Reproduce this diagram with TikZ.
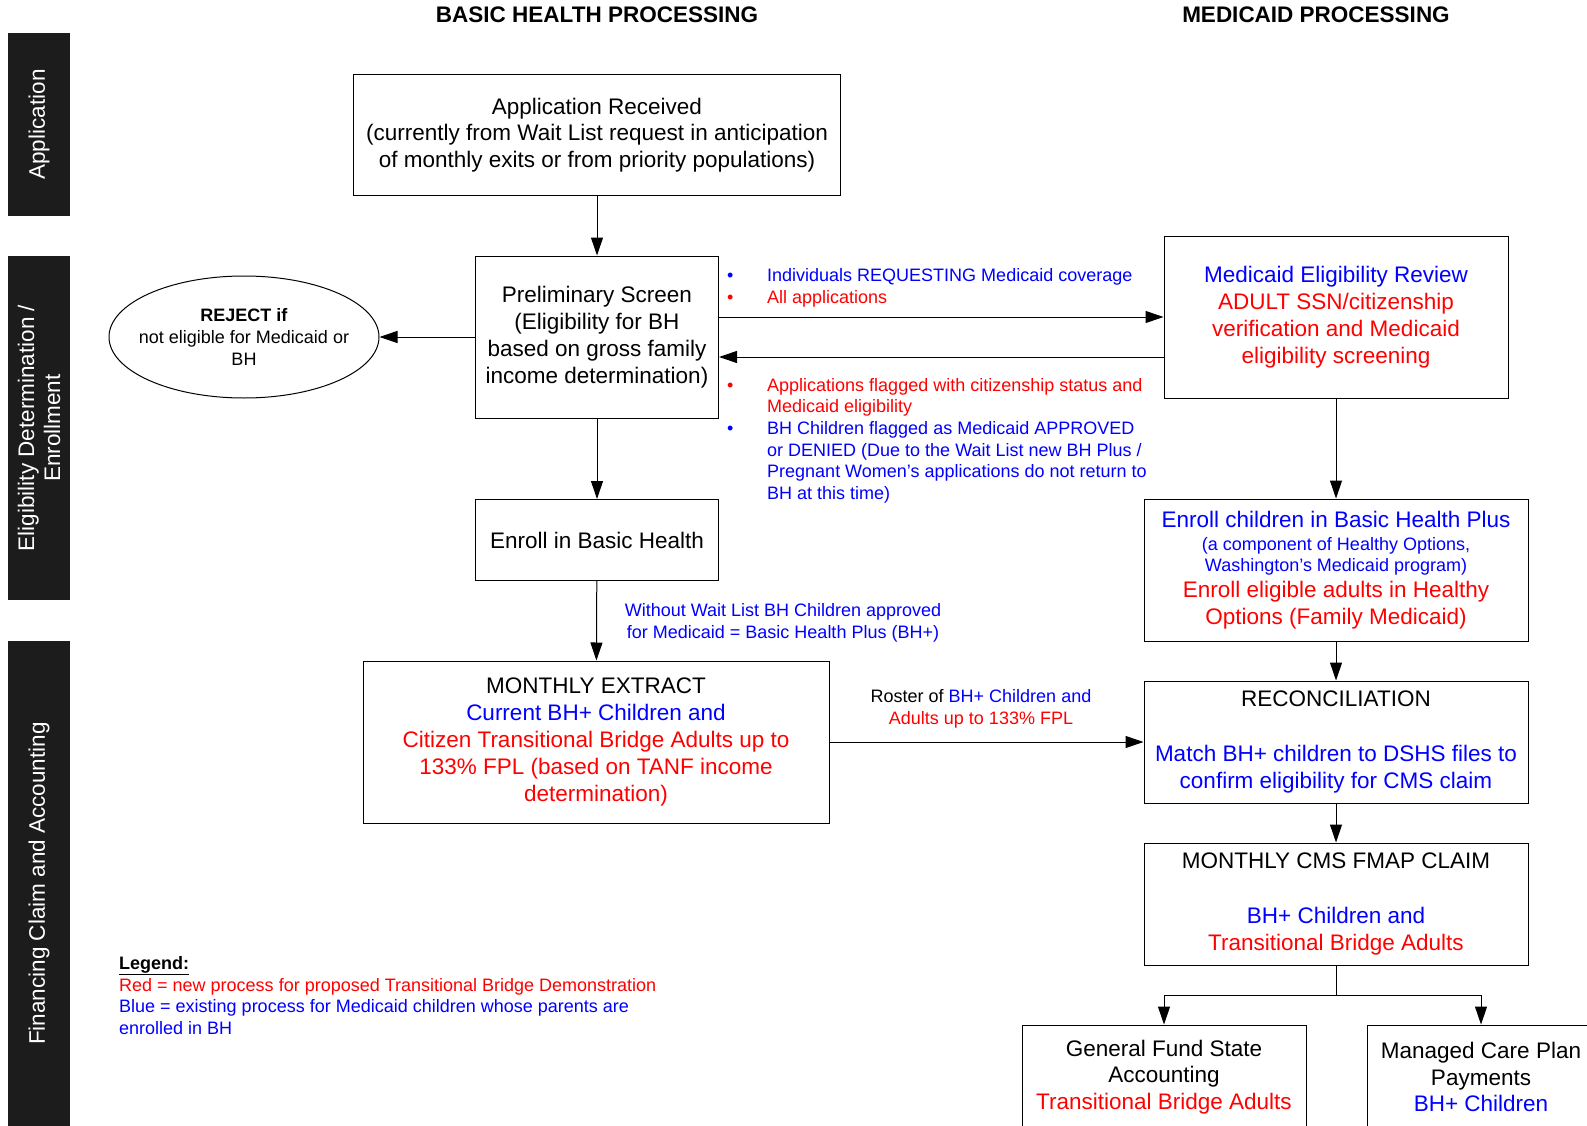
\documentclass[tikz,border=0pt]{standalone}
\usepackage{fontspec}
\setmainfont{Liberation Sans}
\usetikzlibrary{arrows.meta,shapes.geometric}
\newcommand\boxfont{\fontsize{22.5}{26.8}\selectfont}
\newcommand\notefont{\fontsize{18}{21.7}\selectfont}
\newcommand\bartextfont{\fontsize{22.5}{26}\selectfont}

\begin{document}
\begin{tikzpicture}[x=1pt, y=-1pt,
    procbox/.style ={rectangle, draw, line width=1pt, inner sep=0pt, align=center, font=\boxfont},
    rejectnode/.style ={ellipse, draw, line width=1pt, inner xsep=-10pt, inner ysep=0pt, align=center, font=\notefont},
    sidebar/.style ={rectangle, fill=black!89, text=white, rotate=90, inner sep=0pt, align=center, font=\bartextfont},
    colhead/.style ={font=\fontsize{22.5}{26}\selectfont\bfseries},
    note/.style ={font=\notefont, inner sep=0pt},
    flow/.style ={line width=1pt, -{Triangle[length=18pt,width=12pt]}}]
   \useasboundingbox (0,0) rectangle (1587,1126);

   % column headings and swim lanes
   \node[colhead] (bhhead) at (597,15) {BASIC HEALTH PROCESSING};
   \node[colhead] (mdhead) at (1316,15) {MEDICAID PROCESSING};
   \node[sidebar, minimum width=183pt, minimum height=62pt] (laneapp) at (39,124.5) {Application};
   \node[sidebar, minimum width=344pt, minimum height=62pt] (laneelig) at (39,428) {Eligibility Determination /\\Enrollment};
   \node[sidebar, minimum width=485pt, minimum height=62pt] (lanefin) at (39,883.5) {Financing Claim and Accounting};

   % basic health side
   \node[procbox, minimum width=487pt, minimum height=121pt] (apprec) at (597,135)
     {Application Received\\(currently from Wait List request in anticipation\\of monthly exits or from priority populations)};
   \node[procbox, minimum width=243pt, minimum height=162pt] (prelim) at (597,337)
     {Preliminary Screen\\(Eligibility for BH\\based on gross family\\income determination)};
   \node[rejectnode, minimum width=270pt, minimum height=122pt] (reject) at (244,337)
     {\textbf{REJECT if}\\not eligible for Medicaid or\\BH};
   \node[procbox, minimum width=243pt, minimum height=81pt] (enrollbh) at (597,540) {Enroll in Basic Health};
   \node[procbox, minimum width=466pt, minimum height=162pt] (extract) at (596,742)
     {MONTHLY EXTRACT\\\textcolor{blue}{Current BH+ Children and}\\
      \textcolor{red}{Citizen Transitional Bridge Adults up to}\\
      \textcolor{red}{133\% FPL (based on TANF income}\\\textcolor{red}{determination)}};

   % medicaid side
   \node[procbox, minimum width=344pt, minimum height=162pt] (medrev) at (1336,317)
     {\textcolor{blue}{Medicaid Eligibility Review}\\\textcolor{red}{ADULT SSN/citizenship}\\
      \textcolor{red}{verification and Medicaid}\\\textcolor{red}{eligibility screening}};
   \node[procbox, minimum width=384pt, minimum height=142pt] (enrollch) at (1336,570)
     {\textcolor{blue}{Enroll children in Basic Health Plus}\\[-4pt]
      \textcolor{blue}{\notefont(a component of Healthy Options,}\\[-5pt]
      \textcolor{blue}{\notefont Washington's Medicaid program)}\\[-1pt]
      \textcolor{red}{Enroll eligible adults in Healthy}\\\textcolor{red}{Options (Family Medicaid)}};
   \node[procbox, minimum width=384pt, minimum height=122pt] (recon) at (1336,742)
     {RECONCILIATION\\[27.8pt]\textcolor{blue}{Match BH+ children to DSHS files to}\\
      \textcolor{blue}{confirm eligibility for CMS claim}};
   \node[procbox, minimum width=384pt, minimum height=122pt] (cms) at (1336,904)
     {MONTHLY CMS FMAP CLAIM\\[27.8pt]\textcolor{blue}{BH+ Children and}\\
      \textcolor{red}{Transitional Bridge Adults}};
   \node[procbox, minimum width=284pt, minimum height=104pt] (genfund) at (1164,1077)
     {General Fund State\\Accounting\\\textcolor{red}{Transitional Bridge Adults}};
   \node[procbox, minimum width=228pt, minimum height=104pt] (managed) at (1481,1077)
     {Managed Care Plan\\Payments\\\textcolor{blue}{BH+ Children}};
   \coordinate (split) at (1336,995);

   % connector notes
   \node[note, anchor=west] (sendnote) at (727,288.5)
     {\begin{tabular}{@{}p{40pt}@{}l@{}}
      \textcolor{blue}{•} & \textcolor{blue}{Individuals REQUESTING Medicaid coverage}\\
      \textcolor{red}{•} & \textcolor{red}{All applications}
      \end{tabular}};
   \node[note, anchor=west] (returnnote) at (727,441)
     {\begin{tabular}{@{}p{40pt}@{}l@{}}
      \textcolor{red}{•} & \textcolor{red}{Applications flagged with citizenship status and}\\
       & \textcolor{red}{Medicaid eligibility}\\
      \textcolor{blue}{•} & \textcolor{blue}{BH Children flagged as Medicaid APPROVED}\\
       & \textcolor{blue}{or DENIED (Due to the Wait List new BH Plus /}\\
       & \textcolor{blue}{Pregnant Women’s applications do not return to}\\
       & \textcolor{blue}{BH at this time)}
      \end{tabular}};
   \node[note, align=center, text=blue] (bhplusnote) at (783,622.5)
     {Without Wait List BH Children approved\\for Medicaid = Basic Health Plus (BH+)};
   \node[note, align=center] (rosternote) at (981,709)
     {Roster of \textcolor{blue}{BH+ Children and}\\\textcolor{red}{Adults up to 133\% FPL}};
   \node[note, align=left, anchor=west] (legend) at (119,995.5)
     {\textbf{\underline{Legend:}}\\
      \textcolor{red}{Red = new process for proposed Transitional Bridge Demonstration}\\
      \textcolor{blue}{Blue = existing process for Medicaid children whose parents are}\\
      \textcolor{blue}{enrolled in BH}};

   % connectors
   \draw[flow] (apprec) to (prelim);
   \draw[flow] (prelim) to (reject);
   \draw[flow] (prelim) to (enrollbh);
   \draw[flow] (enrollbh) to (extract);
   \draw[flow] ([yshift=20pt]prelim.east) to (medrev.west);
   \draw[flow] ([yshift=-40pt]medrev.west) to ([yshift=-20pt]prelim.east);
   \draw[flow] (medrev) to (enrollch);
   \draw[flow] (enrollch) to (recon);
   \draw[flow] (extract) to (recon);
   \draw[flow] (recon) to (cms);
   \draw[line width=1pt] (cms) to (split);
   \draw[flow] (split) -| (genfund);
   \draw[flow] (split) -| (managed);
\end{tikzpicture}
\end{document}
